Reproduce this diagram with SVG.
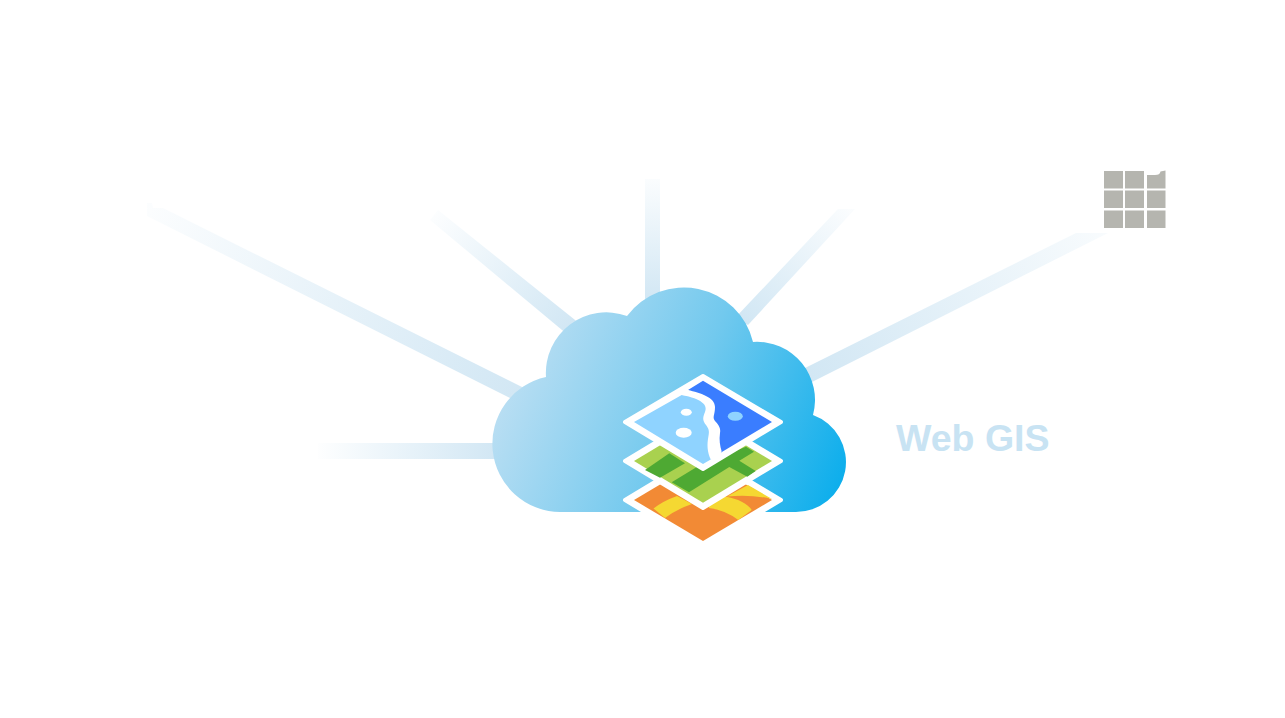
<svg xmlns="http://www.w3.org/2000/svg" width="1285" height="718" viewBox="0 0 1285 718">
<style>
.plate{fill:#fff;stroke:#fff;stroke-width:4;stroke-linejoin:round}
.cell{fill:#b5b5af}
.label{font-family:"Liberation Sans",Arial,sans-serif;font-weight:700;font-size:37.5px;fill:#c8e3f3}
</style>
<defs>
<linearGradient id="cloudFill" gradientUnits="userSpaceOnUse" x1="515" y1="350" x2="840" y2="490">
<stop offset="0" stop-color="#bcdff3"/><stop offset=".5" stop-color="#72c9ee"/><stop offset="1" stop-color="#0caeec"/>
</linearGradient>
<linearGradient id="r1" gradientUnits="userSpaceOnUse" x1="148" y1="208" x2="520" y2="392"><stop offset="0" stop-color="#d2e7f4" stop-opacity=".08"/><stop offset="1" stop-color="#d2e7f4"/></linearGradient>
<linearGradient id="r2" gradientUnits="userSpaceOnUse" x1="432" y1="213" x2="570" y2="325"><stop offset="0" stop-color="#d2e7f4" stop-opacity=".05"/><stop offset="1" stop-color="#d2e7f4"/></linearGradient>
<linearGradient id="r3" gradientUnits="userSpaceOnUse" x1="652" y1="179" x2="652" y2="300"><stop offset="0" stop-color="#d2e7f4" stop-opacity=".1"/><stop offset="1" stop-color="#d2e7f4"/></linearGradient>
<linearGradient id="r4" gradientUnits="userSpaceOnUse" x1="848" y1="209" x2="745" y2="320"><stop offset="0" stop-color="#d2e7f4" stop-opacity=".1"/><stop offset="1" stop-color="#d2e7f4"/></linearGradient>
<linearGradient id="r5" gradientUnits="userSpaceOnUse" x1="1105" y1="228" x2="810" y2="375"><stop offset="0" stop-color="#d2e7f4" stop-opacity=".15"/><stop offset="1" stop-color="#d2e7f4"/></linearGradient>
<linearGradient id="r6" gradientUnits="userSpaceOnUse" x1="318" y1="451" x2="495" y2="451"><stop offset="0" stop-color="#d2e7f4" stop-opacity=".03"/><stop offset="1" stop-color="#d2e7f4"/></linearGradient>
</defs>
<rect width="1285" height="718" fill="#fff"/>
<g id="connectors">
<polygon fill="url(#r1)" points="147,216 147,203 152,203 153,208 163,208 540,396 530,408"/>
<polygon fill="url(#r2)" points="430,220 438,210 590,332 580,345"/>
<rect fill="url(#r3)" x="645" y="179" width="15" height="130"/>
<polygon fill="url(#r4)" points="838,209 855,209 748,325 735,318"/>
<polygon fill="url(#r5)" points="1076,233 1108,233 810,383 803,369"/>
<rect fill="url(#r6)" x="318" y="443" width="185" height="16"/>
</g>
<g id="cloud">
<path fill="url(#cloudFill)" d="M560,512 A68.300,68.300 0 0 1 546,377 A60.500,60.500 0 0 1 627,316 A71,71 0 0 1 753,342 A58,58 0 0 1 813,415 A50,50 0 0 1 795,512 Z"/>
</g>
<g id="web-gis-label"><text class="label" x="896" y="451">Web GIS</text></g>
<g id="grid-icon">
<rect class="cell" x="1104" y="171" width="19" height="17.5"/>
<rect class="cell" x="1125" y="171" width="19" height="17.5"/>
<path class="cell" d="M1147,175 H1155 Q1160,175 1160.500,171.500 L1165.500,170.500 V188.500 H1147 Z"/>
<rect class="cell" x="1104" y="190.500" width="19" height="17.5"/>
<rect class="cell" x="1125" y="190.500" width="19" height="17.500"/>
<rect class="cell" x="1147" y="190.500" width="18.500" height="17.500"/>
<rect class="cell" x="1104" y="210.500" width="19" height="17.500"/>
<rect class="cell" x="1125" y="210.500" width="19" height="17.500"/>
<rect class="cell" x="1147" y="210.500" width="18.500" height="17.500"/>
</g>
<g id="layer-orange">
<polygon class="plate" points="625,500 703,453 781,500 703,547"/>
<polygon fill="#f28a35" points="634,500 703,459 772,500 703,541"/>
<path fill="#f5d832" d="M653.500,508.500 Q663,501 677,496 L692,504 Q677,509 665,518 Z"/>
<path fill="#f5d832" d="M727,496.500 L748,485 L772,499 Q750,494 727,496.500 Z"/>
<path fill="#f5d832" d="M709,505 L725,496.500 Q745,500 751.700,510 L738.300,520 Q725,510 709,508 Z"/>
</g>
<g id="layer-green">
<polygon class="plate" points="625,461 703,414 781,461 703,508"/>
<polygon fill="#a9d14f" points="634,461 703,419.500 772,461 703,502.700"/>
<polygon fill="#4ea933" points="645,470 669.300,453.300 685,463.300 660,477.700"/>
<polygon fill="#4ea933" points="671.700,482.300 700,465 746,446.700 754,451.700 739.300,460.700 755.700,471 747.300,476.700 729.300,467 689,492.300"/>
</g>
<g id="layer-blue">
<polygon class="plate" points="625,422 703,376 781,422 703,469"/>
<polygon fill="#3a7dff" points="688,390 703,380.700 772,422 721,452.500 712,430 708,405"/>
<polygon fill="#8fd3ff" points="681.700,395 634,422 703,464 712,458.700 712,430 708,415 708,405 700,397"/>
<path fill="#fff" d="M688,390 C700,393 715,397 715,407 C715,415 712,417 715,421 C719,425 721,429 720,433 C719,440 720,446 721.700,451.500 L711,460 C707,452 707,444 708.300,437 C710,430 708,428 706,425 C702,420 703,417 705,412 C708,405 702,399 681.700,395 Z"/>
<ellipse cx="686.300" cy="412.300" rx="5.500" ry="3.500" fill="#fff"/>
<ellipse cx="683.700" cy="432.700" rx="8" ry="5" fill="#fff"/>
<ellipse cx="735.300" cy="416.300" rx="7.500" ry="4.500" fill="#8fd3ff"/>
</g>
</svg>
